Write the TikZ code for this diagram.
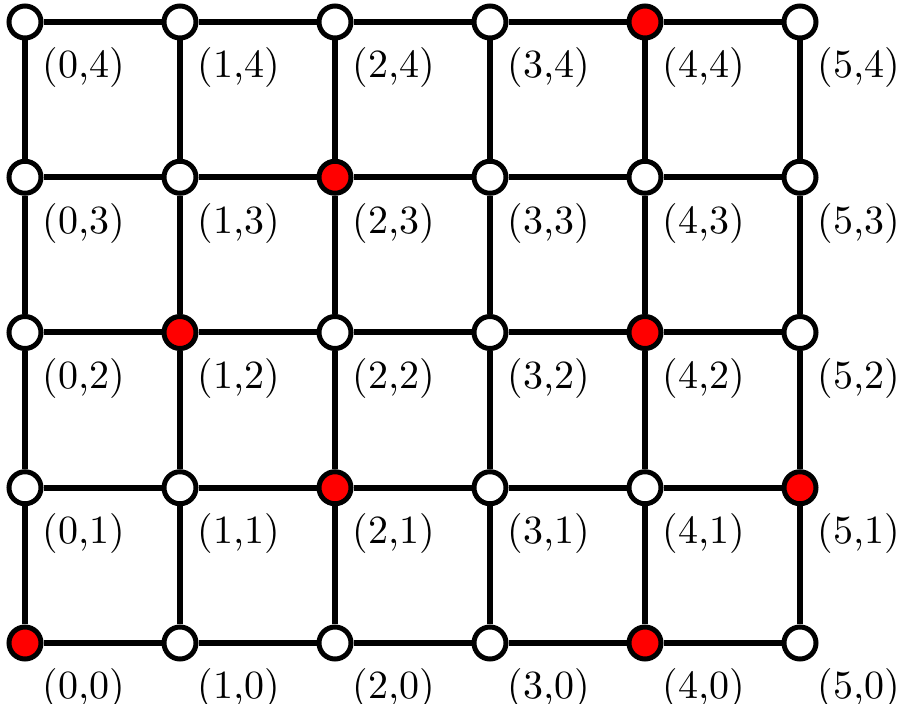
\documentclass[tikz,border=0pt]{standalone}
\begin{document}
\begin{tikzpicture}[x=0.25pt,y=-0.25pt,
  vtx/.style={circle,draw=black,line width=1.25pt,fill=white,minimum size=8pt,inner sep=0pt},
  hot/.style={fill=red},
  c44/.style={hot},c23/.style={hot},c12/.style={hot},c42/.style={hot},
  c21/.style={hot},c51/.style={hot},c00/.style={hot},c40/.style={hot},
  lab/.style={font=\fontsize{10}{12}\selectfont,inner sep=0pt},
  edge/.style={line width=1.5pt,draw=black}]
\useasboundingbox (0,0) rectangle (901,704);
\foreach \i in {0,...,5}{
  \foreach \j in {0,...,4}{
    \pgfmathsetmacro\px{25+155*\i}
    \pgfmathsetmacro\py{643-155.25*\j}
    \node[vtx,c\i\j/.try] (n\i\j) at (\px,\py) {};
    \node[lab] (l\i\j) at (\px+59,\py+46) {(\i,\j)};
  }
}
\foreach \i [evaluate=\i as \k using int(\i+1)] in {0,...,4}{
  \foreach \j in {0,...,4}{
    \draw[edge] (n\i\j) -- (n\k\j);
  }
}
\foreach \i in {0,...,5}{
  \foreach \j [evaluate=\j as \k using int(\j+1)] in {0,...,3}{
    \draw[edge] (n\i\j) -- (n\i\k);
  }
}
\end{tikzpicture}
\end{document}
